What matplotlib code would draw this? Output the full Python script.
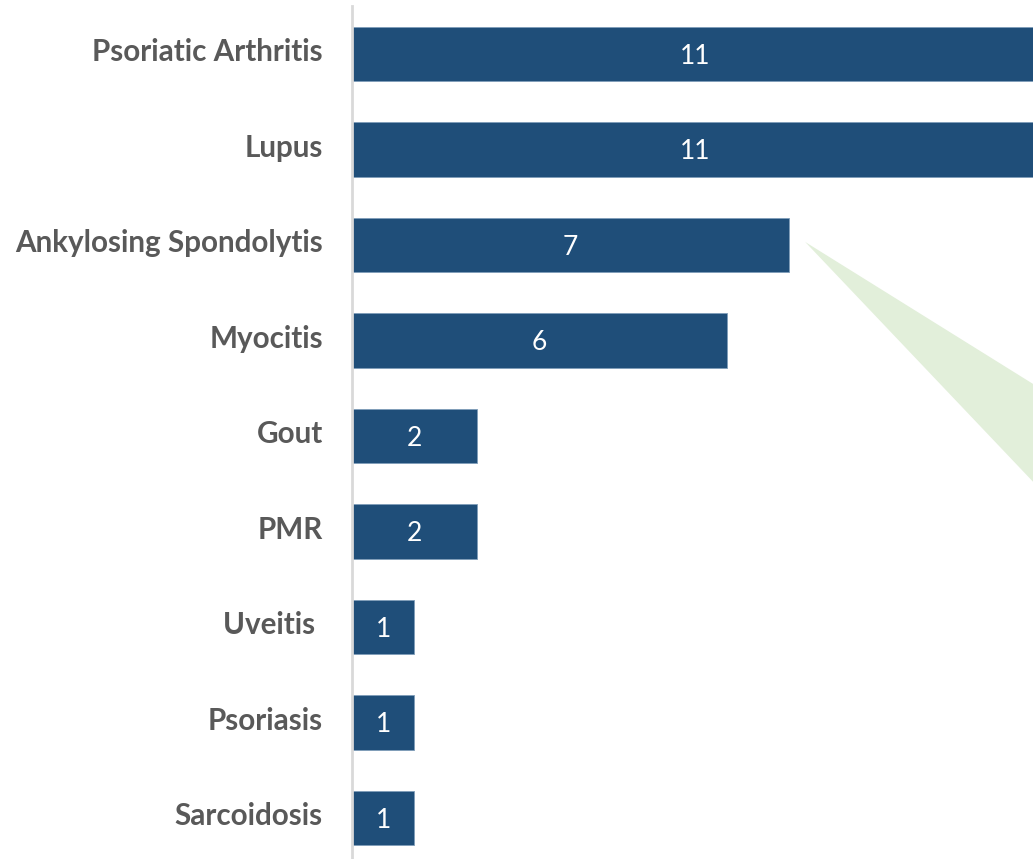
import numpy as np
import matplotlib.pyplot as plt
import matplotlib.transforms as mtransforms
from matplotlib.patches import Polygon

categories = ['Psoriatic Arthritis', 'Lupus', 'Ankylosing Spondolytis', 'Myocitis',
              'Gout', 'PMR', 'Uveitis ', 'Psoriasis', 'Sarcoidosis']
counts = [11, 11, 7, 6, 2, 2, 1, 1, 1]

bar_color = '#1F4E79'
label_color = '#595959'

plt.rcParams['font.family'] = ['Lato', 'DejaVu Sans']

fig = plt.figure(figsize=(10.33, 8.59), dpi=100)
ax = fig.add_axes([352 / 1033, 0, 1 - 352 / 1033, 853 / 859])

y = np.arange(len(categories))
bars = ax.barh(y, counts, height=0.57, color=bar_color, edgecolor='#7F9DB9', linewidth=0.6)

for b, v in zip(bars, counts):
    ax.text(v / 2, b.get_y() + b.get_height() / 2, str(v), ha='center', va='center_baseline',
            color='white', fontsize=19)

# light green callout wedge coming off the Ankylosing Spondolytis bar
wedge = Polygon([[7.26, 1.97], [12, 3.9], [12, 5.23]], closed=True,
                facecolor='#E2EFDA', edgecolor='none', zorder=0)
ax.add_patch(wedge)

ax.set_xlim(0, 10.91)
ax.set_ylim(8.43, -0.5)
ax.set_yticks(y)
ax.set_yticklabels(categories, fontsize=21.3, fontweight='bold', color=label_color,
                   va='center_baseline')
ax.tick_params(axis='y', length=0, pad=21)
ax.set_xticks([])

# nudge the category labels up a little
shift = mtransforms.ScaledTranslation(0, 3 / 72, fig.dpi_scale_trans)
for lbl in ax.get_yticklabels():
    lbl.set_transform(lbl.get_transform() + shift)

for s in ['top', 'right', 'bottom']:
    ax.spines[s].set_visible(False)
ax.spines['left'].set_color('#D9D9D9')
ax.spines['left'].set_linewidth(2)

fig.savefig('out.png', dpi=100)
